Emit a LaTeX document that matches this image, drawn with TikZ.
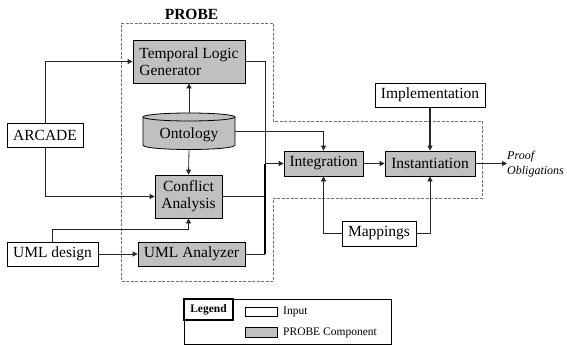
\documentclass[tikz,border=0pt]{standalone}
\usepackage{fontspec}
\setmainfont{Liberation Serif}
\usetikzlibrary{arrows.meta}
\definecolor{compgray}{RGB}{192,192,192}
\begin{document}
\begin{tikzpicture}[x=1pt,y=-1pt,
  box/.style={draw=black, line width=0.8pt, inner sep=0pt, font=\fontsize{15.5}{17}\selectfont},
  comp/.style={box, fill=compgray},
  inp/.style={box, fill=white},
  conn/.style={line width=0.8pt, draw=black!85},
  thickconn/.style={line width=1.5pt, draw=black},
  arr/.style={conn, -{Triangle[length=5pt,width=5pt]}},
  probe/.style={draw=black!55, line width=0.7pt, dash pattern=on 3pt off 1.5pt},
  lgtext/.style={anchor=west, inner sep=0pt, font=\fontsize{11.5}{13}\selectfont}
]
\useasboundingbox (0,0) rectangle (567,345);

% PROBE boundary
\draw[probe] (121,23) -- (273,23) -- (273,121) -- (482,121) -- (482,198) -- (273,198) -- (273,281) -- (121,281) -- cycle;
\node[font=\bfseries\fontsize{15.5}{17}\selectfont, inner sep=0pt] (probelbl) at (191.5,14) {PROBE};

% nodes
\node[comp, minimum width=112pt, minimum height=43pt, align=left] (tlg) at (189,61.5) {Temporal Logic\\Generator};
\node[minimum width=92pt, minimum height=37pt, inner sep=0pt] (onto) at (189,131.5) {};
\fill[compgray] (143,117) -- (143,145) .. controls (143,151) and (235,151) .. (235,145) -- (235,117) -- cycle;
\draw[line width=0.8pt] (143,117) -- (143,145) .. controls (143,151) and (235,151) .. (235,145) -- (235,117);
\draw[line width=0.8pt, fill=compgray] (189,117) ellipse [x radius=46pt, y radius=4pt];
\node[inner sep=0pt, font=\fontsize{15.5}{17}\selectfont] (ontotext) at (189,135) {Ontology};

\node[comp, minimum width=67pt, minimum height=43pt, align=center] (ca) at (188.5,196.5) {Conflict\\Analysis};
\node[inp, minimum width=76pt, minimum height=24pt] (arcade) at (45,135) {ARCADE};
\node[inp, minimum width=91pt, minimum height=24pt] (umld) at (52.5,254) {UML design};
\node[comp, minimum width=107pt, minimum height=24pt] (umla) at (191.5,254) {UML Analyzer};
\node[comp, minimum width=79pt, minimum height=25pt] (integ) at (323.5,163.5) {Integration};
\node[comp, minimum width=90pt, minimum height=25pt] (inst) at (430,163.5) {Instantiation};
\node[inp, minimum width=110pt, minimum height=24pt] (impl) at (430,95) {Implementation};
\node[inp, minimum width=74pt, minimum height=25pt] (map) at (379,233.5) {Mappings};
\node[anchor=west, align=left, inner sep=0pt, font=\itshape\fontsize{12}{15}\selectfont] (po) at (507,164.5) {Proof\\Obligations};

% connectors
\draw[arr] (arcade.north) |- (tlg.west);
\draw[arr] (arcade.south) |- (ca.west);
\draw[arr] (onto.north) -- (tlg.south);
\draw[arr] (onto.south) -- (ca.north);
\draw[arr] (umld) -- (umla);
\draw[arr] (umld.north) -- ++(0,-12) -| (ca.south);

\coordinate (bb) at (265,254);
\coordinate (bm) at (265,163.5);
\draw[conn] (tlg.east) -| (bm);
\draw[thickconn] (bm) -- (bb);
\draw[conn] (umla.east) -- (bb);
\draw[conn] (ca.east) -- (ca.east -| bb);
\draw[arr] (bm) -- (integ.west);
\draw[arr] (onto.east) -| (integ.north);
\draw[arr] (integ) -- (inst);
\draw[arr, line width=1.5pt] (impl) -- (inst);
\draw[arr] (map.west) -| (integ.south);
\draw[arr] (map.east) -| (inst.south);
\draw[arr] (inst.east) -- (inst.east -| po.west);

% legend
\node[draw, line width=0.8pt, minimum width=207pt, minimum height=45pt, inner sep=0pt] (lg) at (287.5,321.5) {};
\node[draw, line width=1.4pt, minimum width=49pt, minimum height=21pt, inner sep=0pt, font=\bfseries\fontsize{11.5}{13}\selectfont] (lgl) at (208.5,309.5) {Legend};
\node[draw, line width=0.7pt, fill=white, minimum width=32pt, minimum height=9pt, inner sep=0pt] (swin) at (261,311.5) {};
\node[draw, line width=0.7pt, fill=compgray, minimum width=32pt, minimum height=10pt, inner sep=0pt] (swcomp) at (261,332.5) {};
\node[lgtext] (lin) at (283,311.5) {Input};
\node[lgtext] (lcomp) at (283,332.5) {PROBE Component};
\end{tikzpicture}
\end{document}
